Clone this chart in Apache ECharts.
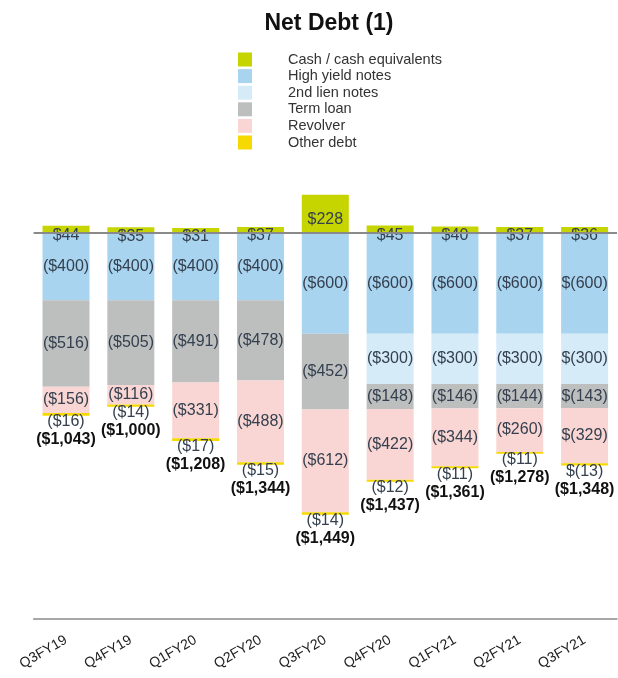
<!DOCTYPE html>
<html>
<head>
<meta charset="utf-8">
<script src="https://cdn.jsdelivr.net/npm/echarts@6/dist/echarts.min.js"></script>
<style>
  html, body { margin: 0; padding: 0; background: #fff; }
  #chart { width: 618px; height: 678px; }
</style>
</head>
<body>
<div id="chart"></div>
<script>
// quarters
const categories = ["Q3FY19", "Q4FY19", "Q1FY20", "Q2FY20", "Q3FY20", "Q4FY20", "Q1FY21", "Q2FY21", "Q3FY21"];

// $ millions, debt shown as negative
const cash = [44, 35, 31, 37, 228, 45, 40, 37, 36];
const highYield = [-400, -400, -400, -400, -600, -600, -600, -600, -600];
const secondLien = [0, 0, 0, 0, 0, -300, -300, -300, -300];
const termLoan = [-516, -505, -491, -478, -452, -148, -146, -144, -143];
const revolver = [-156, -116, -331, -488, -612, -422, -344, -260, -329];
const otherDebt = [-16, -14, -17, -15, -14, -12, -11, -11, -13];
const netDebt = [-1043, -1000, -1208, -1344, -1449, -1437, -1361, -1278, -1348];

const textColor = "#34404f";
const font = "'Liberation Sans', Arial, sans-serif";

function money(v) {
  return Math.abs(v).toLocaleString("en-US");
}
// last quarter is written $(x) in the source deck
function negLabel(v, idx) {
  if (!v) return "";
  return idx === categories.length - 1 ? "$(" + money(v) + ")" : "($" + money(v) + ")";
}

function barSeries(name, data, color) {
  return {
    name: name,
    type: "bar",
    stack: "debt",
    barWidth: 47,
    data: data,
    itemStyle: { color: color },
    label: {
      show: true,
      position: "inside",
      fontFamily: font,
      fontSize: 16,
      color: textColor,
      formatter: function (p) {
        return negLabel(p.value, p.dataIndex);
      }
    }
  };
}

const series = [
  {
    name: "Cash / cash equivalents",
    type: "bar",
    stack: "debt",
    barWidth: 47,
    data: cash,
    itemStyle: { color: "#c6d400" },
    label: {
      show: true,
      position: "inside",
      offset: [0, 6],
      fontFamily: font,
      fontSize: 16,
      color: textColor,
      formatter: function (p) {
        return "$" + p.value;
      }
    },
    markLine: {
      silent: true,
      symbol: ["none", "none"],
      label: { show: false },
      lineStyle: { color: "#8a8a8a", width: 2, type: "solid" },
      data: [{ yAxis: 0 }]
    }
  },
  barSeries("High yield notes", highYield, "#a9d4ef"),
  barSeries("2nd lien notes", secondLien, "#d6ebf8"),
  barSeries("Term loan", termLoan, "#bdbfbf"),
  barSeries("Revolver", revolver, "#f9d6d3"),
  {
    name: "Other debt",
    type: "bar",
    stack: "debt",
    barWidth: 47,
    data: otherDebt,
    itemStyle: { color: "#f5d900" },
    label: {
      show: true,
      position: "inside",
      offset: [0, 16],
      fontFamily: font,
      fontSize: 16,
      lineHeight: 18,
      color: textColor,
      formatter: function (p) {
        return negLabel(p.value, p.dataIndex) + "\n{t|($" + money(netDebt[p.dataIndex]) + ")}";
      },
      rich: {
        t: { fontFamily: font, fontSize: 16, fontWeight: "bold", color: "#111", lineHeight: 18 }
      }
    }
  }
];

const chart = echarts.init(document.getElementById("chart"));
chart.setOption({
  animation: false,
  title: {
    text: "Net Debt (1)",
    left: 324,
    textAlign: "center",
    top: 7,
    textStyle: { fontFamily: font, fontSize: 23, fontWeight: "bold", color: "#111" }
  },
  legend: {
    orient: "vertical",
    left: 233,
    top: 47,
    itemWidth: 14,
    itemHeight: 14,
    itemGap: 1.6,
    icon: "rect",
    selectedMode: false,
    textStyle: { fontFamily: font, fontSize: 14.5, color: "#333", lineHeight: 14, padding: [0, 0, 0, 31] },
    data: series.map(function (s) { return s.name; })
  },
  grid: { left: 33.6, right: 1, top: 166, height: 453 },
  xAxis: {
    type: "category",
    data: categories,
    axisLine: { onZero: false, lineStyle: { color: "#8a8a8a", width: 1.5 } },
    axisTick: { show: false },
    axisLabel: { rotate: 30, margin: 20, fontFamily: font, fontSize: 14, color: "#222" }
  },
  yAxis: {
    type: "value",
    min: -2300,
    max: 400,
    show: false,
    splitLine: { show: false }
  },
  series: series
});
</script>
</body>
</html>
